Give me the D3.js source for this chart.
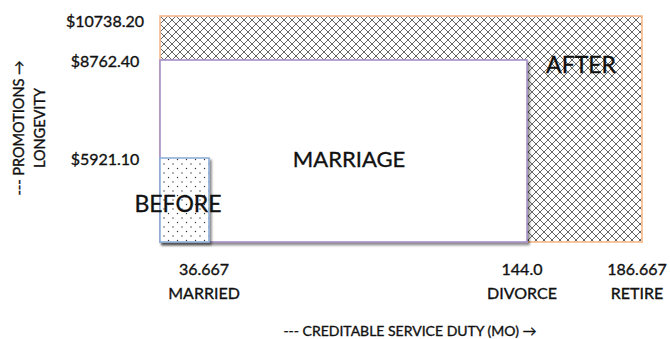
<!DOCTYPE html>
<html>
<head>
<meta charset="utf-8">
<script src="https://cdn.jsdelivr.net/npm/d3@7"></script>
<style>
  body { margin: 0; background: #fff; }
  text { font-family: Lato, "Open Sans", sans-serif; fill: #111; stroke: #111; stroke-width: 0.35px; }
</style>
</head>
<body>
<div id="chart-area"></div>
<script>
// stages of the career, each one a box from 0 to its end month / pay level
var stages      = ["BEFORE", "MARRIAGE", "AFTER"];
var monthsEnd   = [36.667, 144.0, 186.667];
var payLevel    = [5921.10, 8762.40, 10738.20];
var xTickLabels = ["36.667", "144.0", "186.667"];
var eventLabels = ["MARRIED", "DIVORCE", "RETIRE"];
var yTickLabels = ["$5921.10", "$8762.40", "$10738.20"];

var svgWidth  = 670;
var svgHeight = 339;

var svg = d3.select("#chart-area")
            .append("svg")
            .attr("width", svgWidth)
            .attr("height", svgHeight);

var defs = svg.append("defs");

// cross hatch for AFTER
var hatch = defs.append("pattern")
                .attr("id", "hatch")
                .attr("patternUnits", "userSpaceOnUse")
                .attr("width", 8)
                .attr("height", 8);
hatch.append("rect").attr("width", 8).attr("height", 8).attr("fill", "#fff");
hatch.append("path")
     .attr("d", "M0,0L8,8M8,0L0,8M-1,7L1,9M7,-1L9,1M-1,1L1,-1M7,9L9,7")
     .attr("stroke", "#666")
     .attr("stroke-width", 1);

// small dots for BEFORE
var dots = defs.append("pattern")
               .attr("id", "dots")
               .attr("patternUnits", "userSpaceOnUse")
               .attr("width", 9)
               .attr("height", 9);
dots.append("rect").attr("width", 9).attr("height", 9).attr("fill", "#fff");
dots.append("circle").attr("cx", 2).attr("cy", 2).attr("r", 0.7).attr("fill", "#333");
dots.append("circle").attr("cx", 6.5).attr("cy", 6.5).attr("r", 0.7).attr("fill", "#333");

var shadow = defs.append("filter")
                 .attr("id", "shadow")
                 .attr("x", "-5%").attr("y", "-5%")
                 .attr("width", "115%").attr("height", "115%");
shadow.append("feDropShadow")
      .attr("dx", 2).attr("dy", 2.5)
      .attr("stdDeviation", 1.2)
      .attr("flood-color", "#000")
      .attr("flood-opacity", 0.45);

// the boxes are not drawn to scale in the original, so piecewise scales
var x = d3.scaleLinear()
          .domain([0].concat(monthsEnd))
          .range([160, 209, 527, 642]);

var y = d3.scaleLinear()
          .domain([0].concat(payLevel))
          .range([242, 158, 60, 16]);

var boxStyles = [
    { fill: "url(#dots)",  stroke: "#8fb0d9", filter: "url(#shadow)" },
    { fill: "#fff",        stroke: "#a58fc8", filter: "url(#shadow)" },
    { fill: "url(#hatch)", stroke: "#f7b98a", filter: null }
];

var boxes = stages.map((s, i) => ({ name: s, end: monthsEnd[i], pay: payLevel[i], style: boxStyles[i] }));

// largest box first so the small ones sit on top
svg.selectAll("rect.box")
   .data(boxes.slice().reverse())
   .enter()
   .append("rect")
   .attr("class", "box")
   .attr("x", x(0))
   .attr("y", (d) => y(d.pay))
   .attr("width", (d) => x(d.end) - x(0))
   .attr("height", (d) => y(0) - y(d.pay))
   .attr("fill", (d) => d.style.fill)
   .attr("stroke", (d) => d.style.stroke)
   .attr("stroke-width", 1.6)
   .attr("filter", (d) => d.style.filter);

// box names
var namePos = [
    { x: 178, y: 203 },
    { x: 349, y: 158 },
    { x: 581, y: 64 }
];
svg.selectAll("text.stage")
   .data(boxes)
   .enter()
   .append("text")
   .attr("class", "stage")
   .attr("x", (d, i) => namePos[i].x)
   .attr("y", (d, i) => namePos[i].y)
   .attr("text-anchor", "middle")
   .attr("dominant-baseline", "central")
   .attr("font-size", (d, i) => i == 1 ? "22px" : "23px")
   .text((d) => d.name);

// y tick labels
svg.selectAll("text.ytick")
   .data(payLevel)
   .enter()
   .append("text")
   .attr("class", "ytick")
   .attr("x", 105)
   .attr("y", (d, i) => Math.max(y(d), 20))
   .attr("text-anchor", "middle")
   .attr("dominant-baseline", "central")
   .attr("font-size", "16px")
   .text((d, i) => yTickLabels[i]);

// x tick labels, two lines
var xt = svg.selectAll("g.xtick")
            .data(monthsEnd)
            .enter()
            .append("g")
            .attr("class", "xtick")
            .attr("transform", (d) => "translate(" + (x(d) - 5) + ",0)");
xt.append("text")
  .attr("y", 268)
  .attr("text-anchor", "middle")
  .attr("dominant-baseline", "central")
  .attr("font-size", "16px")
  .text((d, i) => xTickLabels[i]);
xt.append("text")
  .attr("y", 292)
  .attr("text-anchor", "middle")
  .attr("dominant-baseline", "central")
  .attr("font-size", "16px")
  .text((d, i) => eventLabels[i]);

// axis titles
svg.append("text")
   .attr("x", 410)
   .attr("y", 330)
   .attr("text-anchor", "middle")
   .attr("dominant-baseline", "central")
   .attr("font-size", "14px")
   .text("--- CREDITABLE SERVICE DUTY (MO) \u2192");

var yTitle = svg.append("g")
                .attr("transform", "translate(0,128) rotate(-90)");
yTitle.append("text")
      .attr("x", 0).attr("y", 18)
      .attr("text-anchor", "middle")
      .attr("dominant-baseline", "central")
      .attr("font-size", "14.5px")
      .text("--- PROMOTIONS \u2192");
yTitle.append("text")
      .attr("x", 0).attr("y", 39)
      .attr("text-anchor", "middle")
      .attr("dominant-baseline", "central")
      .attr("font-size", "14.5px")
      .text("LONGEVITY");
</script>
</body>
</html>
